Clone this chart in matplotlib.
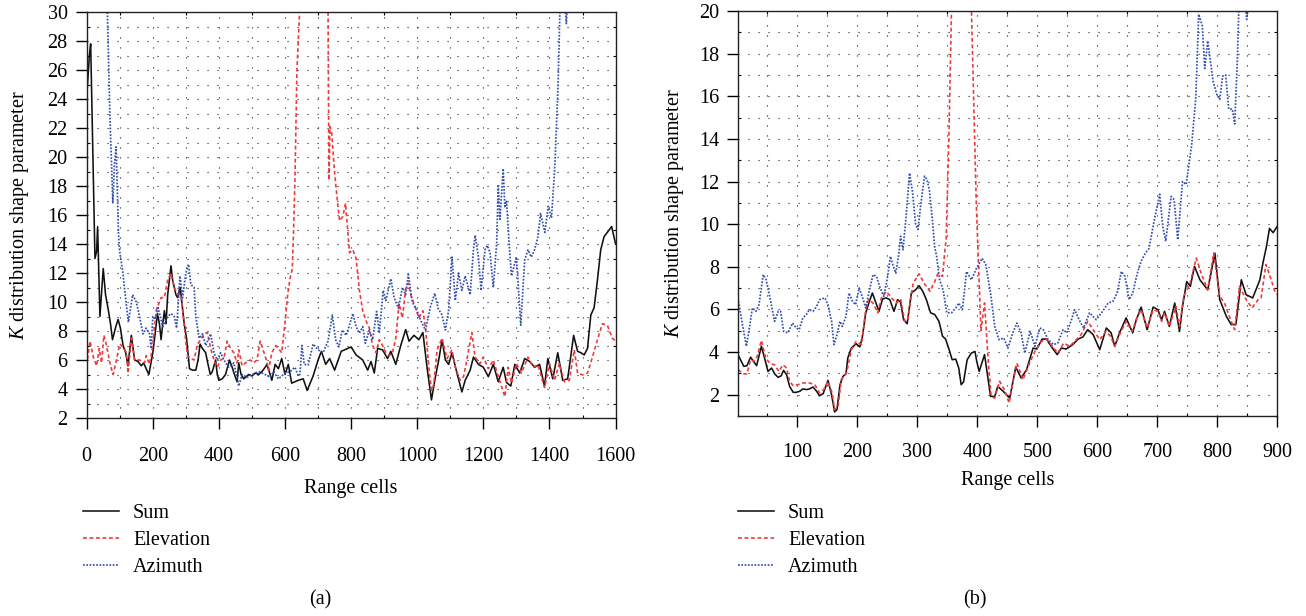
import numpy as np
import matplotlib
matplotlib.use("Agg")
import matplotlib.pyplot as plt
from matplotlib.ticker import MultipleLocator, FixedLocator

plt.rcParams['font.family'] = ['Liberation Serif', 'DejaVu Serif']
plt.rcParams['mathtext.fontset'] = 'custom'
plt.rcParams['mathtext.rm'] = 'Liberation Serif'
plt.rcParams['mathtext.it'] = 'Liberation Serif:italic'

FS = 14.5

# ===================== (a) data =====================
sum_a_x = [0, 4, 8, 12, 25, 30, 33, 40, 50, 57, 65, 72, 78, 88, 95, 102, 110, 118, 125, 135, 145, 155, 165, 172,
           180, 188, 200, 208, 214, 220, 225, 230, 235, 240, 245, 250, 255, 260, 265, 270, 275, 283, 290, 295,
           302, 311, 320, 330, 337, 343, 350, 360, 366, 374, 380, 390, 395, 400, 410, 420, 432, 440, 450, 455,
           460, 467, 475, 490, 500, 510, 520, 530, 540, 545, 555, 560, 570, 580, 590, 600, 610, 620, 630, 640,
           655, 667, 685, 700, 710, 723, 735, 750, 770, 800, 815, 835, 850, 860, 870, 880, 895, 910, 920, 935,
           950, 965, 975, 990, 1005, 1017, 1030, 1043, 1055, 1065, 1075, 1085, 1095, 1105, 1120, 1135, 1145,
           1160, 1170, 1185, 1200, 1215, 1230, 1245, 1260, 1270, 1283, 1295, 1310, 1325, 1340, 1355, 1370,
           1385, 1395, 1410, 1425, 1440, 1455, 1473, 1485, 1495, 1505, 1515, 1525, 1535, 1545, 1555, 1565,
           1575, 1588, 1600]
sum_a_y = [24.2, 25.5, 27.0, 27.8, 13.0, 13.5, 15.2, 9.0, 12.3, 10.5, 9.5, 8.5, 7.4, 8.3, 8.8, 8.2, 7.0, 6.5, 5.6,
           7.7, 6.0, 5.9, 5.6, 5.8, 5.4, 5.0, 6.5, 8.0, 9.2, 8.5, 7.4, 8.5, 9.4, 8.5, 10.5, 11.5, 12.5, 11.5, 11.0,
           10.5, 10.3, 11.0, 9.5, 8.5, 7.5, 5.4, 5.3, 5.3, 6.0, 7.1, 6.8, 6.5, 5.8, 5.0, 5.2, 6.0, 5.0, 4.6, 4.7,
           5.0, 6.0, 5.5, 4.8, 4.5, 5.8, 5.0, 4.7, 5.0, 4.9, 5.1, 5.0, 5.2, 5.5, 5.7, 5.0, 4.6, 5.7, 5.4, 6.1, 5.0,
           5.7, 4.4, 4.5, 4.6, 4.7, 3.9, 4.9, 6.0, 6.6, 5.7, 6.1, 5.3, 6.6, 6.9, 6.35, 6.0, 5.3, 5.9, 5.1, 6.8,
           6.7, 6.1, 6.6, 5.7, 7.0, 8.1, 7.3, 7.7, 7.4, 7.9, 5.4, 3.25, 4.85, 6.0, 7.4, 6.0, 5.7, 6.5, 5.1, 3.8,
           4.6, 5.3, 6.2, 5.7, 5.5, 4.85, 5.7, 4.5, 5.5, 4.45, 4.2, 5.7, 5.1, 6.1, 5.9, 5.5, 5.7, 4.2, 6.1, 4.7,
           6.5, 4.6, 4.7, 7.7, 6.6, 6.5, 6.35, 6.8, 9.1, 9.6, 11.5, 13.6, 14.5, 14.8, 15.2, 14.0]

elev_a_x = [0, 10, 20, 30, 38, 45, 52, 60, 72, 80, 90, 100, 110, 120, 125, 135, 145, 160, 175, 180, 190, 200,
            210, 225, 235, 245, 255, 265, 275, 285, 292, 300, 305, 315, 325, 335, 345, 355, 365, 375, 385, 395,
            405, 415, 425, 435, 445, 455, 460, 470, 480, 495, 505, 515, 525, 535, 545, 550, 560, 572, 580, 590,
            600, 608, 615, 622, 626, 630, 636, 645, 655, 720, 730, 733, 736, 741, 750, 760, 765, 775, 783, 790,
            795, 805, 815, 825, 835, 845, 855, 865, 875, 885, 895, 905, 915, 925, 935, 945, 955, 965, 973, 980,
            990, 1005, 1017, 1025, 1035, 1043, 1050, 1060, 1075, 1090, 1105, 1115, 1130, 1140, 1150, 1165, 1175,
            1190, 1200, 1215, 1230, 1245, 1265, 1275, 1285, 1300, 1315, 1335, 1350, 1365, 1385, 1400, 1415,
            1430, 1445, 1460, 1475, 1485, 1500, 1515, 1530, 1545, 1560, 1575, 1590, 1600]
elev_a_y = [5.6, 7.3, 6.2, 5.6, 6.8, 5.8, 7.7, 7.0, 5.6, 5.0, 6.0, 7.1, 6.9, 6.5, 5.1, 7.5, 6.0, 6.0, 5.8, 6.3,
            5.7, 7.0, 9.4, 10.3, 10.3, 11.5, 12.0, 11.0, 10.5, 10.5, 9.1, 7.2, 6.3, 6.1, 6.0, 7.1, 7.4, 7.8, 7.9,
            6.8, 6.0, 5.5, 6.0, 6.1, 7.3, 6.8, 6.5, 5.8, 6.7, 5.6, 5.8, 6.0, 5.8, 6.0, 7.3, 6.6, 5.9, 5.3, 6.5,
            7.0, 6.8, 6.5, 8.6, 10.5, 11.6, 12.3, 15.0, 18.5, 26.0, 30.5, 40.0, 40.0, 30.5, 18.4, 22.1, 21.7,
            18.9, 16.6, 15.6, 15.9, 16.8, 14.8, 13.4, 13.6, 13.0, 10.8, 9.4, 8.7, 8.2, 7.0, 6.5, 7.4, 7.0, 6.5,
            6.3, 6.5, 7.5, 9.9, 8.9, 10.9, 11.3, 10.5, 9.9, 8.9, 9.4, 8.2, 5.5, 3.9, 4.3, 6.7, 7.5, 6.1, 6.7,
            5.5, 4.6, 4.85, 6.0, 7.9, 6.2, 5.75, 6.2, 5.4, 6.0, 4.85, 3.47, 5.5, 4.4, 5.75, 5.1, 6.2, 5.5, 5.66,
            4.1, 5.75, 4.6, 5.75, 4.5, 4.6, 6.7, 5.1, 4.97, 5.1, 6.2, 7.4, 8.5, 8.4, 7.5, 7.3]

azim_a_x = [0, 55, 62, 70, 79, 84, 89, 96, 99, 109, 116, 126, 139, 150, 160, 170, 180, 190, 195, 200, 210, 215,
            230, 245, 255, 265, 272, 282, 290, 300, 308, 315, 325, 330, 340, 350, 360, 375, 385, 395, 405, 420,
            430, 445, 455, 460, 470, 485, 500, 520, 540, 555, 565, 580, 600, 615, 630, 640, 645, 651, 658, 670,
            685, 700, 715, 730, 743, 753, 763, 773, 785, 795, 805, 815, 825, 835, 843, 855, 865, 877, 885, 897,
            905, 920, 930, 943, 955, 965, 973, 985, 1000, 1013, 1025, 1040, 1053, 1063, 1075, 1085, 1095, 1105,
            1115, 1125, 1135, 1145, 1160, 1170, 1175, 1185, 1193, 1205, 1212, 1220, 1230, 1240, 1245, 1250,
            1260, 1265, 1270, 1278, 1285, 1300, 1313, 1325, 1335, 1345, 1355, 1365, 1373, 1386, 1396, 1406,
            1416, 1426, 1432, 1440, 1447, 1451, 1455, 1470, 1600]
azim_a_y = [45.0, 45.0, 30.5, 23.0, 16.8, 19.5, 20.7, 14.8, 13.6, 12.1, 10.6, 8.6, 10.5, 10.0, 9.0, 7.8, 8.2,
            7.8, 6.8, 9.0, 8.8, 9.7, 8.3, 9.0, 9.2, 9.0, 8.2, 11.8, 10.3, 12.0, 12.6, 11.2, 11.0, 9.0, 7.5, 7.8,
            7.0, 7.8, 6.5, 6.0, 6.5, 5.8, 5.5, 5.8, 4.8, 4.2, 5.0, 4.8, 5.0, 5.2, 5.0, 4.8, 5.2, 4.7, 5.1, 5.2,
            5.5, 4.9, 5.0, 7.0, 5.7, 5.66, 7.1, 6.7, 6.5, 7.3, 9.1, 7.4, 6.9, 8.07, 7.7, 8.4, 9.2, 8.3, 7.85,
            8.3, 7.15, 8.07, 7.4, 9.35, 7.85, 10.8, 10.1, 11.6, 10.3, 9.56, 11.0, 10.5, 11.9, 10.0, 9.35, 8.6,
            8.07, 9.7, 10.6, 9.56, 9.1, 8.07, 9.45, 13.1, 10.1, 12.0, 10.8, 11.8, 10.5, 13.6, 14.6, 13.1, 10.8,
            13.6, 13.9, 13.4, 11.0, 14.0, 18.1, 15.7, 19.2, 16.5, 17.0, 14.0, 11.8, 13.1, 8.4, 12.9, 13.6,
            13.1, 13.6, 14.5, 16.1, 14.8, 16.6, 15.8, 19.3, 25.0, 30.5, 33.0, 30.5, 29.2, 31.0, 40.0, 40.0]

# ===================== (b) data =====================
sum_b_x = [1, 10.6, 16, 22, 27, 32, 40, 46, 51, 57, 62, 68, 73, 77, 82, 87, 93, 98, 104, 109, 115, 120, 126, 132,
           137, 143, 151, 157, 162, 166, 171, 176, 181, 184, 190, 198, 204, 208, 214, 219, 225, 231, 236, 242,
           248, 254, 261, 267, 272, 277, 283, 290, 297, 303, 309, 315, 322, 329, 336, 342, 347, 353, 358, 364,
           369, 373, 377, 383, 390, 396, 399, 403, 412, 422, 429, 434, 443, 454, 464, 473, 482, 493, 499, 508,
           515, 523, 533, 540, 548, 559, 568, 576, 584, 593, 604, 615, 623, 629, 637, 648, 659, 665, 673, 683,
           693, 701, 707, 712, 720, 729, 737, 742, 749, 755, 762, 771, 784, 796, 804, 815, 823, 831, 840, 848,
           859, 871, 876, 882, 887, 893, 900]
sum_b_y = [3.88, 3.33, 3.36, 3.76, 3.56, 3.36, 4.27, 3.64, 3.09, 3.25, 2.98, 2.81, 2.89, 3.14, 2.94, 2.39, 2.11,
           2.11, 2.16, 2.27, 2.24, 2.27, 2.36, 2.16, 1.95, 2.05, 2.67, 2.0, 1.19, 1.3, 2.47, 2.86, 2.98, 3.72,
           4.19, 4.39, 4.24, 4.66, 5.84, 6.3, 6.77, 6.3, 5.91, 6.49, 6.54, 6.46, 5.91, 6.46, 6.34, 5.52, 5.33,
           6.77, 6.92, 7.11, 6.85, 6.46, 5.84, 5.76, 5.44, 4.74, 4.61, 4.11, 3.64, 3.67, 3.25, 2.47, 2.6, 3.64,
           3.95, 4.03, 3.56, 3.09, 3.88, 1.92, 1.92, 2.39, 2.16, 1.84, 3.3, 2.78, 3.17, 4.19, 4.14, 4.61, 4.61,
           4.27, 3.88, 4.19, 4.14, 4.35, 4.61, 4.71, 5.05, 4.82, 4.11, 5.13, 4.9, 4.27, 4.9, 5.6, 4.9, 5.52,
           6.11, 5.05, 6.11, 5.99, 5.52, 5.91, 5.2, 6.3, 4.97, 6.14, 7.31, 7.08, 8.02, 7.39, 6.92, 8.64, 6.46,
           5.68, 5.29, 5.29, 7.39, 6.69, 6.54, 7.39, 8.17, 8.96, 9.8, 9.6, 9.9]

elev_b_x = [1, 10.6, 16, 22, 27, 33, 40, 47, 54, 62, 69, 76, 82, 87, 93, 101, 109, 120, 129, 137, 144, 151, 158,
            162, 168, 173, 182, 190, 198, 207, 214, 219, 226, 234, 240, 248, 257, 265, 272, 279, 284, 293, 303,
            311, 321, 329, 334, 342, 346, 348, 352.7, 357, 362, 385, 390, 398, 401, 406, 412, 418, 423, 429, 437,
            445, 453, 459, 466, 476, 487, 496, 507, 515, 525, 534, 544, 554, 565, 573, 584, 593, 604, 614, 622,
            629, 637, 648, 658, 665, 673, 683, 693, 701, 707, 712, 720, 731, 737, 744, 754, 765, 773, 784, 794,
            804, 812, 822, 829, 837, 848, 858, 868, 873, 881, 887, 896, 900]
elev_b_y = [3.17, 2.98, 2.98, 3.64, 3.56, 3.8, 4.55, 3.72, 3.48, 3.4, 3.09, 3.4, 3.25, 2.63, 2.42, 2.47, 2.55,
            2.55, 2.47, 2.08, 2.24, 2.63, 2.08, 1.3, 1.45, 2.7, 3.02, 4.11, 4.5, 4.35, 6.0, 6.46, 6.3, 5.84, 6.54,
            6.85, 6.54, 6.3, 6.49, 5.44, 5.55, 7.23, 7.67, 7.23, 6.85, 7.31, 7.67, 7.55, 8.8, 9.3, 14.3, 20.2,
            25.0, 25.0, 20.2, 11.2, 8.8, 5.0, 6.3, 3.64, 1.92, 1.84, 2.63, 2.24, 1.61, 2.55, 3.48, 2.7, 3.48,
            4.03, 4.5, 4.61, 4.27, 3.95, 4.42, 4.27, 4.58, 4.82, 5.44, 5.05, 4.58, 4.97, 4.74, 4.27, 4.82, 5.44,
            4.97, 5.52, 5.99, 5.13, 5.99, 5.91, 5.44, 5.84, 5.2, 6.14, 5.2, 6.61, 7.16, 8.41, 7.7, 6.92, 8.64,
            6.61, 6.3, 5.52, 5.05, 7.08, 6.46, 6.07, 6.46, 6.54, 8.1, 7.63, 6.85, 6.7]

azim_b_x = [1, 7, 15, 20, 25, 31, 36, 43, 48, 56, 62, 68, 72, 77, 84, 92, 98, 103, 109, 115, 120, 126, 132, 137,
            146, 151, 157, 161, 166, 171, 175, 181, 186, 192, 197, 203, 208, 214, 219, 226, 232, 237, 244, 250,
            255, 259, 264, 269, 272, 276, 281, 287, 292, 297, 301, 306, 312, 316, 320, 325, 329, 332, 337, 343,
            349, 357, 364, 369, 375, 382, 390, 398, 408, 414, 422, 429, 436, 444, 451, 459, 466, 473, 479, 488,
            496, 504, 510, 518, 527, 534, 543, 549, 557, 562, 571, 577, 587, 598, 607, 618, 626, 633, 640, 646,
            653, 659, 666, 673, 680, 686, 695, 704, 709, 714, 723, 728, 734, 742, 748, 757, 764, 766, 769, 775,
            779, 784, 793, 799, 804, 809, 814, 819, 825, 829, 833, 836, 842, 847, 849, 851, 856, 900]
azim_b_y = [6.54, 5.52, 4.27, 5.13, 6.07, 5.91, 6.22, 7.63, 7.39, 6.3, 5.44, 5.91, 5.91, 4.97, 4.9, 5.36, 5.13,
            5.05, 5.6, 5.76, 5.99, 5.91, 6.14, 6.46, 6.54, 6.22, 5.44, 4.35, 4.82, 5.44, 5.2, 5.68, 6.77, 6.38,
            6.22, 7.0, 6.61, 6.07, 6.77, 7.63, 7.55, 7.08, 6.61, 7.47, 8.49, 8.1, 7.7, 8.57, 9.43, 8.8, 10.3,
            12.4, 11.5, 10.0, 9.75, 11.0, 12.25, 12.1, 11.6, 10.2, 8.9, 8.5, 7.4, 6.9, 5.84, 5.84, 6.07, 6.3,
            5.99, 7.78, 7.39, 7.9, 8.4, 8.1, 6.77, 5.2, 4.58, 4.66, 4.19, 4.9, 5.36, 4.9, 3.95, 4.97, 4.27, 5.13,
            5.05, 4.58, 4.35, 4.42, 5.05, 4.9, 5.52, 5.99, 5.44, 5.13, 5.84, 5.52, 5.84, 6.3, 6.38, 6.77, 7.78,
            7.55, 6.46, 6.77, 7.63, 8.26, 8.64, 8.85, 10.2, 11.4, 9.9, 9.2, 11.3, 11.15, 9.27, 12.0, 11.86,
            13.66, 15.85, 17.4, 19.85, 19.3, 17.3, 18.6, 16.7, 16.1, 15.85, 16.95, 17.0, 15.4, 15.4, 14.7, 17.4,
            20.2, 22.0, 20.2, 19.6, 20.2, 23.0, 24.0]

labels = ["Sum", "Elevation", "Azimuth"]
colors = ["#111111", "#f03a3a", "#3450b0"]


# ===================== drawing =====================
def draw_panel(ax, xs, ys, xlim, ylim, xminor, xticks, yticks, xpad):
    styles = ['-', (0, (2.3, 1.6)), (0, (1.0, 0.9))]
    widths = [1.15, 1.2, 1.25]
    lines = []
    for x, y, c, ls, lw, lab in zip(xs, ys, colors, styles, widths, labels):
        ln, = ax.plot(x, y, color=c, linestyle=ls, lw=lw, label=lab)
        lines.append(ln)
    ax.set_xlim(*xlim)
    ax.set_ylim(*ylim)
    ax.xaxis.set_major_locator(FixedLocator(xticks))
    ax.xaxis.set_minor_locator(MultipleLocator(xminor))
    ax.yaxis.set_major_locator(FixedLocator(yticks))
    ax.yaxis.set_minor_locator(MultipleLocator(1))
    ax.grid(True, which='both', color='#222222', linestyle=(0, (1, 8)), lw=0.8)
    ax.tick_params(which='major', direction='out', length=7.7, width=1.0, labelsize=FS)
    ax.tick_params(axis='x', which='major', pad=xpad)
    ax.tick_params(axis='y', which='major', pad=6)
    ax.tick_params(which='minor', direction='in', length=2.5, width=0.8, top=True, right=True)
    for sp in ax.spines.values():
        sp.set_linewidth(1.0)
        sp.set_color('#222222')
    return lines


fig = plt.figure(figsize=(13.06, 6.16), dpi=100)
W, H = 1306.0, 616.0

ax1 = fig.add_axes([86.7 / W, 1 - 418 / H, (615.6 - 86.7) / W, 406 / H])
ax2 = fig.add_axes([738.0 / W, 1 - 416 / H, (1277.3 - 738.0) / W, 405 / H])

l1 = draw_panel(ax1, [sum_a_x, elev_a_x, azim_a_x], [sum_a_y, elev_a_y, azim_a_y],
                (0, 1600), (2, 30), 100, list(range(0, 1601, 200)), list(range(2, 31, 2)), 13.5)
l2 = draw_panel(ax2, [sum_b_x, elev_b_x, azim_b_x], [sum_b_y, elev_b_y, azim_b_y],
                (1, 900), (1, 20), 50, list(range(100, 901, 100)), list(range(2, 21, 2)), 11.5)

ylab = "$K$ distribution shape parameter"
fig.text(20 / W, 1 - 215 / H, ylab, rotation=90, ha='center', va='center', fontsize=FS)
fig.text(674 / W, 1 - 213 / H, ylab, rotation=90, ha='center', va='center', fontsize=FS)
fig.text(351 / W, 1 - 489 / H, "Range cells", ha='center', va='center', fontsize=FS)
fig.text(1007.5 / W, 1 - 480 / H, "Range cells", ha='center', va='center', fontsize=FS)
fig.text(320 / W, 1 - 600 / H, "(a)", ha='center', va='center', fontsize=FS)
fig.text(975 / W, 1 - 600 / H, "(b)", ha='center', va='center', fontsize=FS)

for lines, x0 in [(l1, 83), (l2, 738)]:
    fig.legend(handles=lines, labels=labels, loc='upper left',
               bbox_to_anchor=(x0 / W, 1 - 504 / H), bbox_transform=fig.transFigure,
               frameon=False, fontsize=FS, borderpad=0, borderaxespad=0,
               handlelength=1.8, handletextpad=0.68, labelspacing=0.38)

fig.savefig("out.png", dpi=100)
